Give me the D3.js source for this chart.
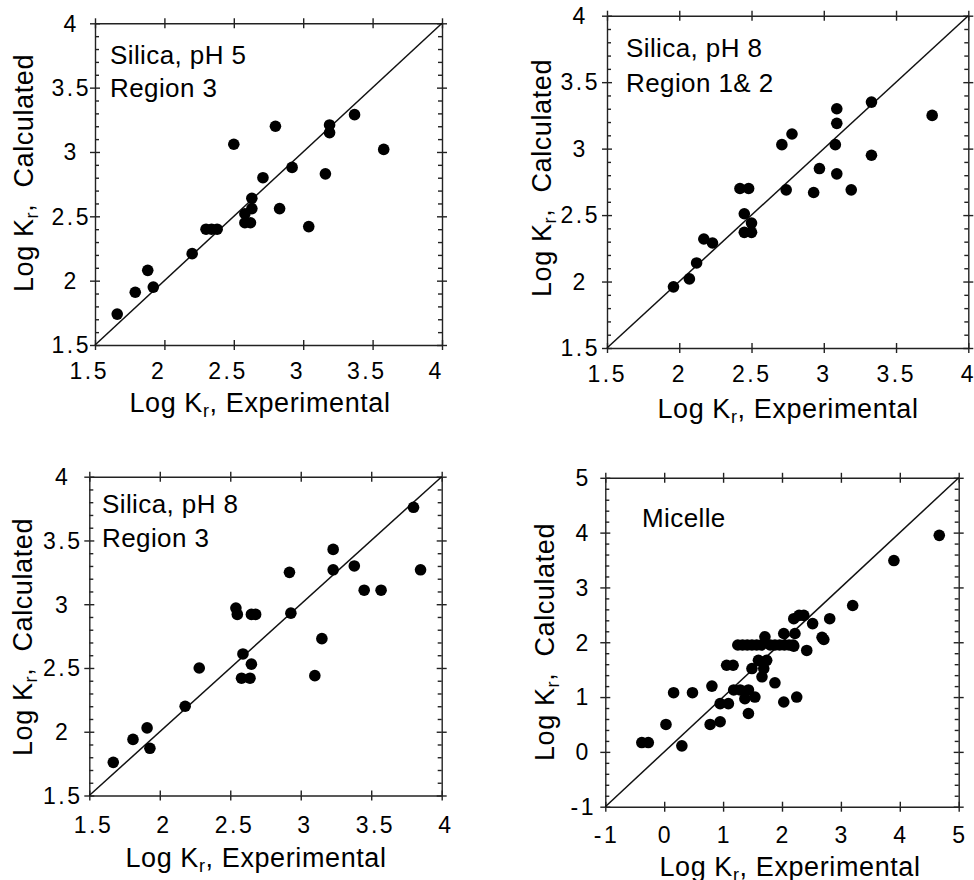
<!DOCTYPE html>
<meta charset="UTF-8">
<style>
body { margin: 0; background: #fff; }
svg text { font-family: "Liberation Sans", Arial, Helvetica, sans-serif; fill: #000; }
.tick-label { font-size: 23px; letter-spacing: 2.5px; }
.title { font-size: 27px; letter-spacing: 0.6px; }
.note { font-size: 26px; letter-spacing: 0.4px; }
.axis path, .axis line { stroke: #222; stroke-width: 1.4px; }
.diag { stroke: #111; stroke-width: 1.5px; }
.dot { fill: #000; }
</style>
<body>
<script src="https://d3js.org/d3.v7.min.js"></script>
<script>

// ---- data ----
var silicaTicks = [1.5, 2, 2.5, 3, 3.5, 4];
var silicaTickLabels = ["1.5", "2", "2.5", "3", "3.5", "4"];
var micelleTicks = [-1, 0, 1, 2, 3, 4, 5];
var micelleTickLabels = ["-1", "0", "1", "2", "3", "4", "5"];

// Silica, pH 5, Region 3
var p1X = [1.66, 1.79, 1.88, 1.92, 2.20, 2.30, 2.34, 2.38, 2.50, 2.58, 2.63, 2.63, 2.58, 2.62,
           2.71, 2.80, 2.83, 2.92, 3.04, 3.16, 3.19, 3.19, 3.37, 3.58];
var p1Y = [1.74, 1.91, 2.08, 1.95, 2.21, 2.40, 2.40, 2.40, 3.06, 2.52, 2.64, 2.56, 2.45, 2.45,
           2.80, 3.20, 2.56, 2.88, 2.42, 2.83, 3.21, 3.15, 3.29, 3.02];

// Silica, pH 8, Region 1 & 2
var p2X = [1.96, 2.07, 2.12, 2.17, 2.23, 2.42, 2.48, 2.45, 2.50, 2.45, 2.50, 2.71, 2.78, 2.74,
           2.93, 2.97, 3.08, 3.09, 3.09, 3.09, 3.19, 3.33, 3.33, 3.75];
var p2Y = [1.96, 2.02, 2.14, 2.32, 2.29, 2.70, 2.70, 2.51, 2.44, 2.37, 2.37, 3.03, 3.11, 2.69,
           2.67, 2.85, 3.03, 3.19, 3.30, 2.81, 2.69, 3.35, 2.95, 3.25];

// Silica, pH 8, Region 3
var p3X = [1.67, 1.81, 1.91, 1.93, 2.18, 2.28, 2.54, 2.55, 2.65, 2.68, 2.59, 2.65, 2.58, 2.64,
           2.92, 2.93, 3.10, 3.15, 3.23, 3.23, 3.38, 3.45, 3.57, 3.80, 3.85];
var p3Y = [1.76, 1.94, 2.03, 1.87, 2.20, 2.50, 2.97, 2.92, 2.92, 2.92, 2.61, 2.53, 2.42, 2.42,
           3.25, 2.93, 2.44, 2.73, 3.43, 3.27, 3.30, 3.11, 3.11, 3.76, 3.27];

// Micelle
var p4X = [-0.38, -0.27, 0.03, 0.30, 0.16, 0.48, 0.81, 0.78, 0.95, 0.95, 1.09, 1.06, 1.17, 1.18,
           1.29, 1.43, 1.37, 1.54, 1.43, 1.49, 1.60, 1.74, 1.69, 1.66, 1.88, 2.03, 2.25,
           1.25, 1.33, 1.41, 1.49, 1.57, 1.65, 1.80, 1.88, 1.96, 2.04, 2.12, 2.19,
           1.71, 2.03, 2.22, 2.20, 2.20, 2.29, 2.37, 2.52, 2.42, 2.68, 2.71, 2.81, 3.20, 3.90, 4.67];
var p4Y = [0.17, 0.17, 0.50, 0.11, 1.08, 1.08, 1.20, 0.50, 0.55, 0.88, 0.88, 1.58, 1.58, 1.13,
           1.13, 1.13, 0.97, 1.00, 0.70, 1.52, 1.67, 1.67, 1.52, 1.37, 1.26, 0.91, 1.00,
           1.95, 1.95, 1.95, 1.95, 1.95, 1.95, 1.95, 1.95, 1.95, 1.95, 1.95, 1.95,
           2.10, 2.16, 2.16, 1.93, 2.43, 2.49, 2.49, 2.34, 1.85, 2.09, 2.05, 2.43, 2.67, 3.49, 3.95];

// ---- layout (pixel boxes of each panel) ----
var panels = [
  {xs: p1X, ys: p1Y, dom: [1.5, 4], ticks: silicaTicks, labels: silicaTickLabels, minor: 0.1,
   box: [95, 442, 23.3, 345], notes: ["Silica, pH 5", "Region 3"], noteX: 110, noteY: [64, 97],
   yTitle: [33, 173], xTitle: [260, 412], tickY: 379, tickDx: -7, yLabX: 70},
  {xs: p2X, ys: p2Y, dom: [1.5, 4], ticks: silicaTicks, labels: silicaTickLabels, minor: 0.1,
   box: [607, 968.3, 15.7, 348], notes: ["Silica, pH 8", "Region 1& 2"], noteX: 626, noteY: [57, 92],
   yTitle: [551, 178], xTitle: [788, 418], tickY: 382, tickDx: -1, yLabX: 579},
  {xs: p3X, ys: p3Y, dom: [1.5, 4], ticks: silicaTicks, labels: silicaTickLabels, minor: 0.1,
   box: [89.3, 441.7, 476.7, 795.5], notes: ["Silica, pH 8", "Region 3"], noteX: 102, noteY: [513, 547],
   yTitle: [32, 637], xTitle: [256, 867], tickY: 833, tickDx: 3, yLabX: 61.5},
  {xs: p4X, ys: p4Y, dom: [-1, 5], ticks: micelleTicks, labels: micelleTickLabels, minor: 0.2,
   box: [605.3, 958.7, 477.8, 806.7], notes: ["Micelle"], noteX: 642, noteY: [527],
   yTitle: [554, 642], xTitle: [790, 876], tickY: 843, tickDx: 0, yLabX: 582}
];

var svg = d3.select("body").append("svg")
    .attr("width", 974)
    .attr("height", 880);

panels.forEach(drawPanel);

function drawPanel(p) {
  var x = d3.scaleLinear().domain(p.dom).range([p.box[0], p.box[1]]);
  var y = d3.scaleLinear().domain(p.dom).range([p.box[3], p.box[2]]);
  var g = svg.append("g");

  // minor tick values (inward only, on the vertical axes)
  var n = Math.round((p.dom[1] - p.dom[0]) / p.minor);
  var k = Math.round((p.ticks[1] - p.ticks[0]) / p.minor);
  var minors = d3.range(0, n + 1).filter(function(i) { return i % k !== 0; })
      .map(function(i) { return p.dom[0] + i * p.minor; });

  function axis(gen, tx, ty, vals, size, keepDomain) {
    var a = g.append("g").attr("class", "axis")
        .attr("transform", "translate(" + tx + "," + ty + ")")
        .call(gen.tickValues(vals).tickSize(size).tickSizeOuter(0).tickFormat(""));
    a.attr("font-size", null).attr("font-family", null);
    if (!keepDomain) a.select(".domain").remove();
    return a;
  }

  // bottom
  axis(d3.axisBottom(x), 0, p.box[3], p.ticks, 5, true);
  axis(d3.axisTop(x), 0, p.box[3], p.ticks, 5, false);
  // top
  axis(d3.axisTop(x), 0, p.box[2], p.ticks, 5, true);
  axis(d3.axisBottom(x), 0, p.box[2], p.ticks, 5, false);
  // left
  axis(d3.axisLeft(y), p.box[0], 0, p.ticks, 5, true);
  axis(d3.axisRight(y), p.box[0], 0, p.ticks, 5, false);
  axis(d3.axisRight(y), p.box[0], 0, minors, 4, false);
  // right
  axis(d3.axisRight(y), p.box[1], 0, p.ticks, 5, true);
  axis(d3.axisLeft(y), p.box[1], 0, p.ticks, 5, false);
  axis(d3.axisLeft(y), p.box[1], 0, minors, 4, false);

  // tick labels
  g.selectAll("text.xl").data(p.ticks).join("text")
      .attr("class", "tick-label xl")
      .attr("x", function(d) { return x(d) + p.tickDx + 1.2; })
      .attr("y", p.tickY)
      .attr("text-anchor", "middle")
      .text(function(d, i) { return p.labels[i]; });

  g.selectAll("text.yl").data(p.ticks).join("text")
      .attr("class", "tick-label yl")
      .attr("x", p.yLabX + 1.2)
      .attr("y", function(d) { return y(d); })
      .attr("dy", "0.36em")
      .attr("text-anchor", "middle")
      .text(function(d, i) { return p.labels[i]; });

  // 1:1 line
  g.append("line").attr("class", "diag")
      .attr("x1", x(p.dom[0])).attr("y1", y(p.dom[0]))
      .attr("x2", x(p.dom[1])).attr("y2", y(p.dom[1]));

  // points
  g.selectAll("circle").data(d3.range(p.xs.length)).join("circle")
      .attr("class", "dot")
      .attr("cx", function(i) { return x(p.xs[i]); })
      .attr("cy", function(i) { return y(p.ys[i]); })
      .attr("r", 5.8);

  // panel notes
  p.notes.forEach(function(s, i) {
    g.append("text").attr("class", "note")
        .attr("x", p.noteX).attr("y", p.noteY[i]).text(s);
  });

  // axis titles
  var xt = g.append("text").attr("class", "title")
      .attr("x", p.xTitle[0]).attr("y", p.xTitle[1])
      .attr("text-anchor", "middle");
  titleText(xt, ", Experimental");

  var yt = g.append("text").attr("class", "title")
      .attr("transform", "translate(" + p.yTitle[0] + "," + p.yTitle[1] + ") rotate(-90)")
      .attr("text-anchor", "middle");
  titleText(yt, ",  Calculated");
}

function titleText(t, rest) {
  t.append("tspan").text("Log K");
  t.append("tspan").attr("dy", 5).style("font-size", "18px").text("r");
  t.append("tspan").attr("dy", -5).style("white-space", "pre").text(rest);
}

</script>
</body>
